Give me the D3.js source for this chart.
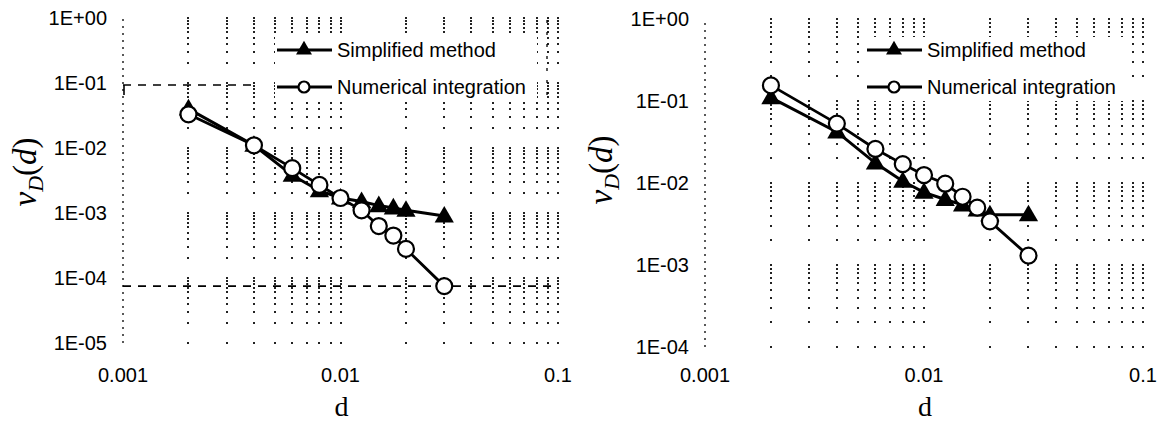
<!DOCTYPE html>
<html><head><meta charset="utf-8">
<script src="https://cdn.jsdelivr.net/npm/d3@7"></script>
<style>
body{margin:0;background:#fff;}
svg{display:block;}
</style></head>
<body>
<svg id="chart" width="1167" height="428"></svg>
<script>
// ---- data ----
const dValues = [0.002, 0.004, 0.006, 0.008, 0.01, 0.0125, 0.015, 0.0175, 0.02, 0.03];
const leftSimplified = [0.040, 0.011, 0.0038, 0.0022, 0.0017, 0.0015, 0.0013, 0.0012, 0.0011, 0.0009];
const leftNumerical  = [0.033, 0.011, 0.0049, 0.0027, 0.0017, 0.0011, 0.00063, 0.00045, 0.00028, 0.000075];
const rightSimplified = [0.11, 0.042, 0.0175, 0.0105, 0.0077, 0.0063, 0.0054, 0.0047, 0.0041, 0.0041];
const rightNumerical  = [0.155, 0.053, 0.026, 0.017, 0.0125, 0.0098, 0.0068, 0.005, 0.0034, 0.0013];
const xTickLabels = ["0.001", "0.01", "0.1"];
const xTickValues = [0.001, 0.01, 0.1];
const leftYTickLabels = ["1E+00", "1E-01", "1E-02", "1E-03", "1E-04", "1E-05"];
const leftYTickValues = [1, 1e-1, 1e-2, 1e-3, 1e-4, 1e-5];
const rightYTickLabels = ["1E+00", "1E-01", "1E-02", "1E-03", "1E-04"];
const rightYTickValues = [1, 1e-1, 1e-2, 1e-3, 1e-4];
const seriesNames = ["Simplified method", "Numerical integration"];
const leftRefLines = [0.093, 0.000075];

const svg = d3.select("#chart");

function minorTicks(lo, hi) {
  const out = [];
  for (let e = Math.round(Math.log10(lo)); e < Math.round(Math.log10(hi)); e++) {
    for (let k = 1; k <= 9; k++) out.push(k * Math.pow(10, e));
  }
  out.push(hi);
  return out;
}

function panel(cfg) {
  const g = svg.append("g");
  const x = d3.scaleLog().domain([0.001, 0.1]).range(cfg.xr);
  const y = d3.scaleLog().domain(cfg.yd).range(cfg.yr);

  // dotted grid: dots at grid intersections
  const xs = minorTicks(0.001, 0.1).slice(1);
  const ys = minorTicks(cfg.yd[0], cfg.yd[1]);
  const pts = [];
  xs.forEach(a => ys.forEach(b => pts.push([a, b])));
  g.append("g").selectAll("rect").data(pts).enter().append("rect")
    .attr("x", d => Math.round(x(d[0])) - 1).attr("y", d => Math.round(y(d[1])) - 1)
    .attr("width", 2).attr("height", 2).attr("fill", "#222");
  // y axis (dotted)
  g.append("line").attr("x1", cfg.xr[0]).attr("x2", cfg.xr[0]).attr("y1", cfg.yr[0]).attr("y2", cfg.yr[1])
    .attr("stroke", "#000").attr("stroke-width", 1.3).attr("stroke-dasharray", "2,5");

  // reference lines
  if (cfg.refs) {
    cfg.refs.forEach((v, i) => {
      const xe = i === 0 ? x(0.0041) : cfg.xr[1];
      g.append("line").attr("x1", cfg.xr[0]).attr("x2", xe).attr("y1", y(v)).attr("y2", y(v))
        .attr("stroke", "#000").attr("stroke-width", 1.6).attr("stroke-dasharray", "8,7");
    });
    g.append("line").attr("x1", cfg.xr[0] + 1).attr("x2", cfg.xr[0] + 1).attr("y1", y(cfg.refs[0])).attr("y2", y(cfg.refs[0]) + 10)
      .attr("stroke", "#000").attr("stroke-width", 1.6);
    g.append("line").attr("x1", cfg.xr[1] - 11).attr("x2", cfg.xr[1] - 11).attr("y1", 20).attr("y2", 100)
      .attr("stroke", "#000").attr("stroke-width", 1.3).attr("stroke-dasharray", "3,9");
  }

  // tick labels
  g.selectAll(".xl").data(xTickValues).enter().append("text")
    .attr("x", d => x(d)).attr("y", 382).attr("text-anchor", "middle")
    .attr("font-family", "Liberation Sans, Arial, sans-serif").attr("font-size", 20)
    .text((d, i) => xTickLabels[i]);
  g.selectAll(".yl").data(cfg.yTicks).enter().append("text")
    .attr("x", cfg.xr[0] - 16).attr("y", d => y(d)).attr("dy", "0.35em").attr("text-anchor", "end")
    .attr("font-family", "Liberation Sans, Arial, sans-serif").attr("font-size", 20)
    .text((d, i) => cfg.yLabels[i]);

  // axis titles
  g.append("text").attr("x", (cfg.xr[0] + cfg.xr[1]) / 2 + 1).attr("y", 416).attr("text-anchor", "middle")
    .attr("font-family", "Liberation Serif, Times New Roman, serif").attr("font-size", 28).text("d");
  const yt = g.append("text").attr("transform", `translate(${cfg.ylx},${cfg.yly}) rotate(-90)`)
    .attr("text-anchor", "middle").attr("font-family", "Liberation Serif, Times New Roman, serif")
    .attr("font-size", 33);
  yt.append("tspan").attr("font-style", "italic").text("v");
  yt.append("tspan").attr("font-style", "italic").attr("font-size", 22).attr("dy", 7).text("D");
  yt.append("tspan").attr("dy", -7).text("(");
  yt.append("tspan").attr("font-style", "italic").text("d");
  yt.append("tspan").text(")");

  const line = d3.line().x(d => x(d[0])).y(d => y(d[1]));
  const tri = d3.symbol().type(d3.symbolTriangle);

  // legend background to clear grid dots
  g.append("rect").attr("x", cfg.legX - 2).attr("y", 37).attr("width", 262).attr("height", 64).attr("fill", "#fff");

  // series
  const s1 = dValues.map((d, i) => [d, cfg.simp[i]]);
  const s2 = dValues.map((d, i) => [d, cfg.num[i]]);
  g.append("path").attr("d", line(s1)).attr("fill", "none").attr("stroke", "#000").attr("stroke-width", 3);
  g.selectAll(".tri").data(s1).enter().append("path")
    .attr("d", tri.size(160)()).attr("transform", d => `translate(${x(d[0])},${y(d[1]) + 1})`)
    .attr("fill", "#000");
  g.append("path").attr("d", line(s2)).attr("fill", "none").attr("stroke", "#000").attr("stroke-width", 2.8);
  g.selectAll(".cir").data(s2).enter().append("circle")
    .attr("cx", d => x(d[0])).attr("cy", d => y(d[1])).attr("r", 8)
    .attr("fill", "#fff").attr("stroke", "#000").attr("stroke-width", 2.2);

  // legend
  const lx = cfg.legX;
  [50, 87].forEach((ly, i) => {
    g.append("line").attr("x1", lx).attr("x2", lx + 55).attr("y1", ly).attr("y2", ly)
      .attr("stroke", "#000").attr("stroke-width", 3);
    if (i === 0) {
      g.append("path").attr("d", tri.size(110)()).attr("transform", `translate(${lx + 27},${ly})`).attr("fill", "#000");
    } else {
      g.append("circle").attr("cx", lx + 27).attr("cy", ly).attr("r", 5.5)
        .attr("fill", "#fff").attr("stroke", "#000").attr("stroke-width", 2.2);
    }
    g.append("text").attr("x", lx + 60).attr("y", ly).attr("dy", "0.35em")
      .attr("font-family", "Liberation Sans, Arial, sans-serif").attr("font-size", 20)
      .text(seriesNames[i]);
  });
}

panel({xr: [123, 558], yd: [1e-5, 1], yr: [343, 18], yTicks: leftYTickValues, yLabels: leftYTickLabels,
  simp: leftSimplified, num: leftNumerical, refs: leftRefLines, legX: 277, ylx: 36, yly: 172});
panel({xr: [705, 1143], yd: [1e-4, 1], yr: [347, 19], yTicks: rightYTickValues, yLabels: rightYTickLabels,
  simp: rightSimplified, num: rightNumerical, refs: null, legX: 867, ylx: 612, yly: 170});
</script>
</body></html>
